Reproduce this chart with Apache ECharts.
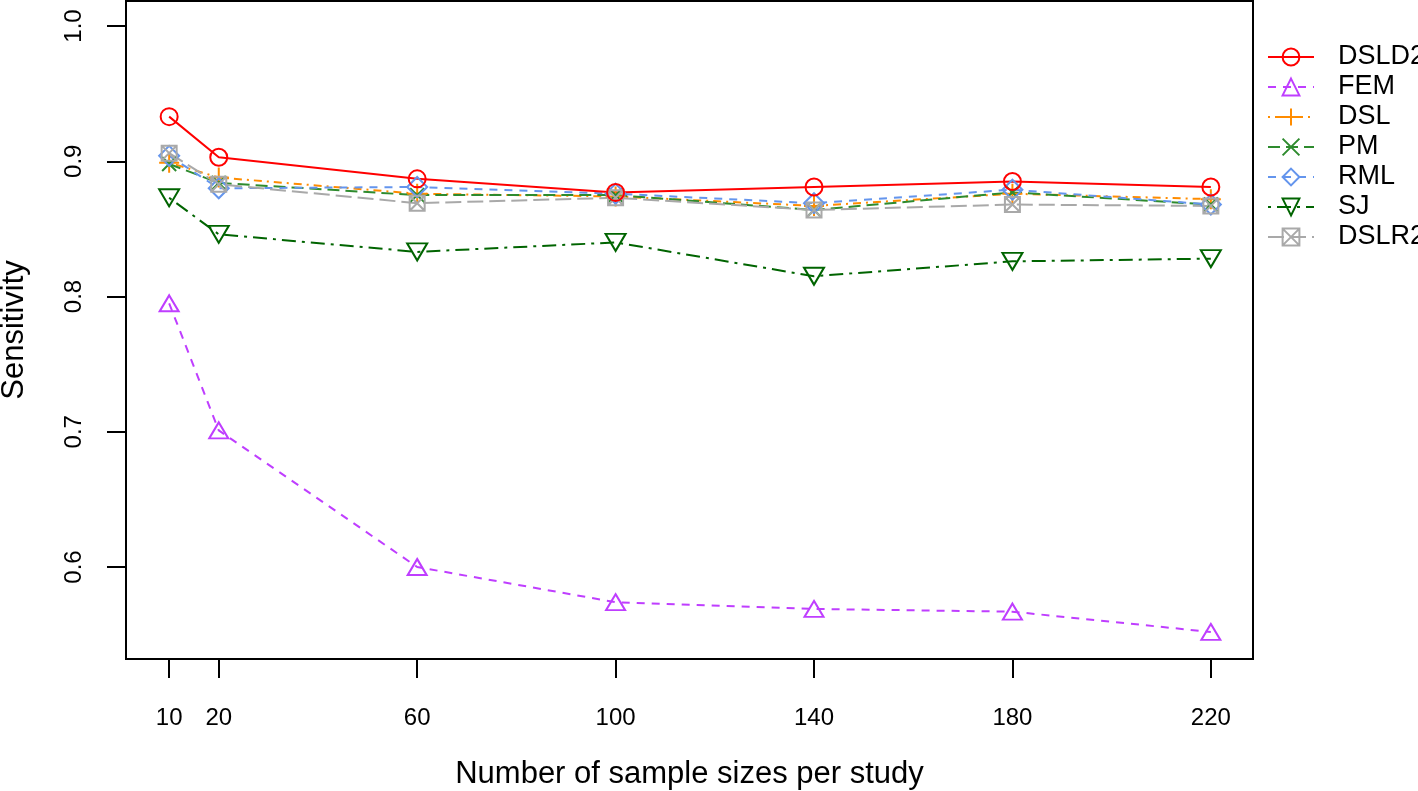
<!DOCTYPE html>
<html>
<head>
<meta charset="utf-8">
<script src="https://cdn.jsdelivr.net/npm/echarts@6/dist/echarts.min.js"></script>
<style>
  html, body { margin: 0; padding: 0; background: #fff; }
  #main { width: 1418px; height: 791px; }
</style>
</head>
<body>
<div id="main"></div>
<script>
// sample sizes on the x axis
var sampleSizes = [10, 20, 60, 100, 140, 180, 220];
var yTicks = [0.6, 0.7, 0.8, 0.9, 1.0];

// sensitivity per method
var dsld2 = [0.933, 0.903, 0.887, 0.877, 0.881, 0.885, 0.881];
var fem   = [0.795, 0.701, 0.600, 0.574, 0.569, 0.567, 0.552];
var dsl   = [0.899, 0.888, 0.876, 0.874, 0.867, 0.876, 0.872];
var pm    = [0.898, 0.884, 0.875, 0.875, 0.864, 0.877, 0.868];
var rml   = [0.904, 0.880, 0.881, 0.876, 0.869, 0.879, 0.868];
var sj    = [0.873, 0.846, 0.833, 0.840, 0.815, 0.826, 0.828];
var dslr2 = [0.906, 0.883, 0.869, 0.873, 0.864, 0.868, 0.867];

var legendNames = ['DSLD2', 'FEM', 'DSL', 'PM', 'RML', 'SJ', 'DSLR2'];

var FONT = '"Liberation Sans", Arial, Helvetica, sans-serif';

function pairs(vals) {
    return sampleSizes.map(function (x, i) { return [x, vals[i]]; });
}

function makeSeries(name, vals, color, dash, symbol, size, rotate) {
    return {
        name: name,
        type: 'line',
        data: pairs(vals),
        symbol: symbol,
        symbolSize: size,
        symbolRotate: rotate || 0,
        symbolKeepAspect: false,
        showAllSymbol: true,
        lineStyle: { color: color, width: 2, type: dash },
        itemStyle: { color: 'rgba(0,0,0,0)', borderColor: color, borderWidth: 2 },
        emphasis: { disabled: true },
        z: 2
    };
}

var plusPath = 'path://M0,5L10,5M5,0L5,10';
var crossPath = 'path://M0,0L10,10M0,10L10,0';
var boxXPath = 'path://M0,0L10,0L10,10L0,10ZM0,0L10,10M0,10L10,0';

var series = [
    makeSeries('FEM', fem, '#BF3EFF', [8, 7], 'triangle', [19, 16]),
    makeSeries('DSL', dsl, '#FF8C00', [2, 5, 8, 5], plusPath, 20),
    makeSeries('PM', pm, '#2E8B2E', [12, 6], crossPath, 14),
    makeSeries('RML', rml, '#6495ED', [8, 7], 'diamond', 20),
    makeSeries('SJ', sj, '#006400', [3, 6, 14, 6], 'triangle', [20, 17], 180),
    makeSeries('DSLR2', dslr2, '#A9A9A9', [16, 6], boxXPath, 15),
    makeSeries('DSLD2', dsld2, '#FF0000', 'solid', 'circle', 17)
];

var chart = echarts.init(document.getElementById('main'));
chart.setOption({
    animation: false,
    backgroundColor: '#fff',
    grid: {
        left: 126, right: 165, top: 1, bottom: 132,
        show: true, borderColor: '#000', borderWidth: 2,
        containLabel: false,
        outerBoundsMode: 'none'
    },
    legend: {
        data: legendNames,
        orient: 'vertical',
        left: 1267, top: 42,
        padding: 0,
        itemWidth: 46, itemHeight: 21, itemGap: 0,
        selectedMode: false,
        textStyle: {
            fontFamily: FONT, fontSize: 27, color: '#000',
            lineHeight: 30, padding: [0, 0, 0, 19]
        }
    },
    xAxis: {
        type: 'value',
        min: 1.3, max: 228.5,
        name: 'Number of sample sizes per study',
        nameLocation: 'middle',
        nameGap: 100,
        nameTextStyle: { fontFamily: FONT, fontSize: 31, color: '#000' },
        axisLine: { show: false },
        splitLine: { show: false },
        axisTick: {
            show: true, inside: false, length: 19,
            customValues: sampleSizes,
            lineStyle: { color: '#000', width: 2 }
        },
        axisLabel: {
            customValues: sampleSizes,
            margin: 47,
            fontFamily: FONT, fontSize: 24, color: '#000'
        }
    },
    yAxis: {
        type: 'value',
        min: 0.532, max: 1.0185,
        name: 'Sensitivity',
        nameLocation: 'middle',
        nameGap: 96,
        nameTextStyle: { fontFamily: FONT, fontSize: 31, color: '#000' },
        axisLine: { show: false },
        splitLine: { show: false },
        axisTick: {
            show: true, inside: false, length: 19,
            customValues: yTicks,
            lineStyle: { color: '#000', width: 2 }
        },
        axisLabel: {
            customValues: yTicks,
            rotate: 90,
            margin: 40,
            fontFamily: FONT, fontSize: 24, color: '#000',
            formatter: function (v) { return v.toFixed(1); }
        }
    },
    series: series
});
</script>
</body>
</html>
